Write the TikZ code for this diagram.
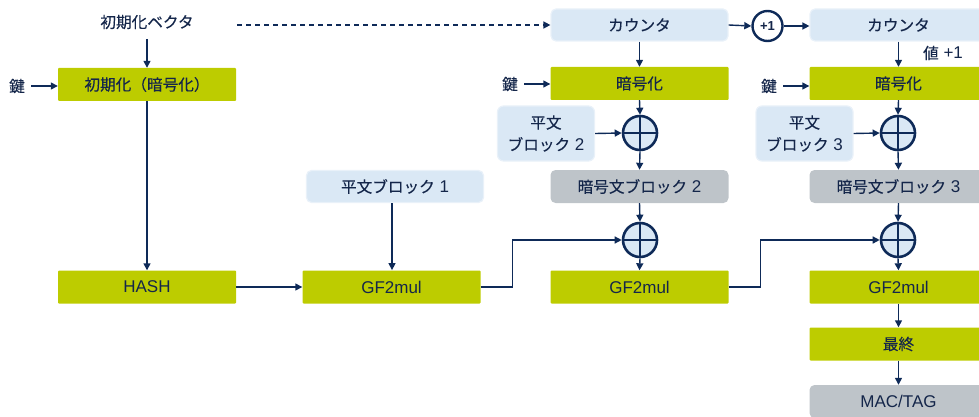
\documentclass[tikz,border=0pt]{standalone}
\usepackage{fontspec}
\setmainfont{Liberation Sans}
\newfontfamily\jp[Scale=0.92,FakeBold=0.3]{Noto Sans CJK JP}
\usetikzlibrary{arrows.meta}
\definecolor{grn}{HTML}{BDCC00}
\definecolor{lblue}{HTML}{DAE8F5}
\definecolor{gry}{HTML}{BEC4C9}
\definecolor{navy}{HTML}{0E2A58}
\definecolor{txt}{HTML}{14264A}
\begin{document}
\begin{tikzpicture}[x=1pt,y=-1pt,
  every node/.style={font=\fontsize{17}{19}\selectfont, text=txt},
  gbox/.style={fill=grn, minimum width=178pt, minimum height=33pt, inner sep=0pt, rounded corners=1pt},
  bbox/.style={fill=lblue, draw=lblue!60!white, line width=1.2pt, minimum width=177pt, minimum height=32pt, inner sep=0pt, rounded corners=5pt},
  ybox/.style={fill=gry, minimum width=178pt, minimum height=33pt, inner sep=0pt, rounded corners=5pt},
  pbox/.style={fill=lblue, draw=lblue!60!white, line width=1.2pt, minimum width=97pt, minimum height=55pt, inner sep=0pt, rounded corners=6pt, align=center, font=\fontsize{17}{22}\selectfont},
  arr/.style={draw=navy, line width=1.4pt, -{Triangle[length=7pt,width=7pt]}},
  xorc/.style={circle, draw=navy, line width=2.6pt, fill=lblue, minimum size=34pt, inner sep=0pt,
    path picture={\draw[navy,line width=2.6pt] (path picture bounding box.north) -- (path picture bounding box.south) (path picture bounding box.west) -- (path picture bounding box.east);}},
  pluscirc/.style={circle, draw=navy, line width=2.4pt, fill=white, minimum size=30pt, inner sep=0pt, font=\fontsize{13}{14}\selectfont\bfseries},
]
\useasboundingbox (0,0) rectangle (979,417);
\clip (0,0) rectangle (979,417);

% left column
\node (iv) at (147,22) {\jp 初期化ベクタ};
\node[gbox] (init) at (147,84.5) {\jp 初期化（暗号化）};
\node (key1) at (17,86) {\jp 鍵};
\node[gbox] (hash) at (147,287) {HASH};

% column 2
\node[bbox] (p1) at (395,186.5) {{\jp 平文ブロック} 1};
\node[gbox] (g1) at (391.5,287) {GF2mul};

% column 3
\node[bbox] (c1) at (639.5,25) {\jp カウンタ};
\node (key2) at (510,84) {\jp 鍵};
\node[gbox] (e1) at (639.5,83.5) {\jp 暗号化};
\node[xorc] (x1) at (640,133) {};
\node[pbox] (pb2) at (546,133.5) {{\jp 平文}\\{\jp ブロック} 2};
\node[ybox] (cb2) at (639.5,186.5) {{\jp 暗号文ブロック} 2};
\node[xorc] (x2) at (640,240) {};
\node[gbox] (g2) at (639.5,287) {GF2mul};

% plus one
\node[pluscirc] (inc) at (767.5,26) {+1};

% column 4
\node[bbox] (c2) at (898.5,25) {\jp カウンタ};
\node (val) at (943,53) {{\jp 値} +1};
\node (key3) at (769,86) {\jp 鍵};
\node[gbox] (e2) at (898.5,83.5) {\jp 暗号化};
\node[xorc] (x3) at (898,133) {};
\node[pbox] (pb3) at (804.5,133.5) {{\jp 平文}\\{\jp ブロック} 3};
\node[ybox] (cb3) at (898.5,186.5) {{\jp 暗号文ブロック} 3};
\node[xorc] (x4) at (898,240) {};
\node[gbox] (g3) at (898.5,287) {GF2mul};
\node[gbox] (fin) at (898.5,344) {\jp 最終};
\node[ybox] (mac) at (898.5,401.5) {MAC/TAG};

% connectors
\coordinate (ds) at (237,25);
\draw[arr, dashed, dash pattern=on 5pt off 4pt] (ds) -- (ds -| c1.west);
\draw[arr] (iv.south) ++(0,6) -- (init.north);
\draw[arr] (key1.east) ++(3,0) -- (key1.east -| init.west);
\draw[arr] (init.south) -- (hash.north);
\draw[arr] (hash.east) -- (g1.west);
\draw[arr] (p1.south) ++(-3,0) -- ++(0,67);

\draw[arr] (c1.south) -- (e1.north);
\draw[arr] (key2.east) ++(3,0) -- (key2.east -| e1.west);
\draw[arr] (e1.south) -- (x1.north);
\draw[arr] (pb2.east) -- (x1.west);
\draw[arr] (x1.south) -- (cb2.north);
\draw[arr] (cb2.south) -- (x2.north);
\draw[arr] (g1.east) -- ++(32,0) |- (x2.west);
\draw[arr] (x2.south) -- (g2.north);

\draw[arr] (c1.east) -- (inc.west);
\draw[arr] (inc.east) -- (inc.east -| c2.west);

\draw[arr] (c2.south) -- (e2.north);
\draw[arr] (key3.east) ++(3,0) -- (key3.east -| e2.west);
\draw[arr] (e2.south) -- (x3.north);
\draw[arr] (pb3.east) -- (x3.west);
\draw[arr] (x3.south) -- (cb3.north);
\draw[arr] (cb3.south) -- (x4.north);
\draw[arr] (g2.east) -- ++(32,0) |- (x4.west);
\draw[arr] (x4.south) -- (g3.north);
\draw[arr] (g3.south) -- (fin.north);
\draw[arr] (fin.south) -- (mac.north);
\end{tikzpicture}
\end{document}
